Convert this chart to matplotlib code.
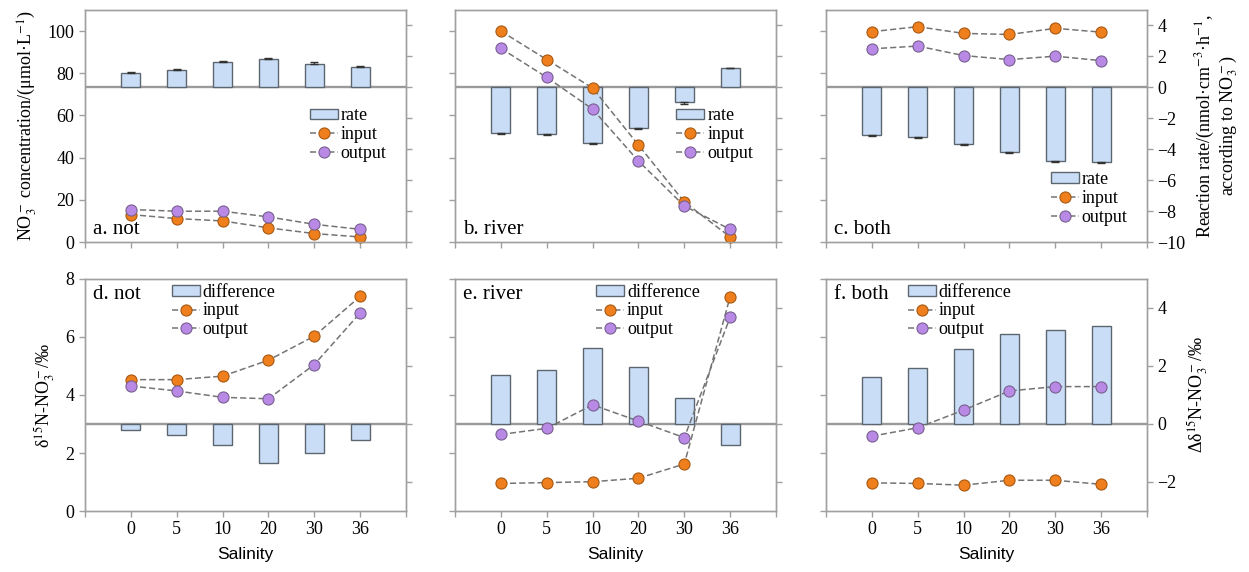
import matplotlib
matplotlib.use("Agg")
import matplotlib.pyplot as plt
import numpy as np
from matplotlib.patches import Patch
from matplotlib.lines import Line2D

# salinity categories
salinity = ["0", "5", "10", "20", "30", "36"]

# top row: NO3- concentration (left axis) and reaction rate (right axis)
rate_not = [0.95, 1.1, 1.65, 1.8, 1.5, 1.3]
rate_not_err = [0.06, 0.06, 0.07, 0.08, 0.12, 0.08]
in_not = [13.0, 11.1, 10.0, 6.7, 4.0, 2.4]
out_not = [15.4, 14.6, 14.6, 11.9, 8.4, 6.0]

rate_river = [-2.95, -3.0, -3.6, -2.6, -0.92, 1.23]
rate_river_err = [0.07, 0.1, 0.07, 0.12, 0.18, 0.05]
in_river = [100.0, 86.5, 73.0, 46.0, 19.0, 2.4]
out_river = [91.8, 78.1, 63.0, 38.4, 17.1, 6.0]

rate_both = [-3.1, -3.2, -3.65, -4.15, -4.75, -4.85]
rate_both_err = [0.06, 0.1, 0.08, 0.1, 0.08, 0.07]
in_both = [99.7, 102.1, 98.9, 98.4, 101.3, 99.5]
out_both = [91.6, 92.9, 88.4, 86.5, 88.1, 86.0]

# bottom row: d15N (left axis) and difference (right axis)
d15_in_not = [4.53, 4.53, 4.65, 5.2, 6.03, 7.4]
d15_out_not = [4.31, 4.14, 3.92, 3.87, 5.05, 6.83]
diff_not = [-0.21, -0.38, -0.72, -1.33, -0.99, -0.55]

d15_in_river = [0.95, 0.98, 1.01, 1.13, 1.62, 7.39]
d15_out_river = [2.64, 2.85, 3.66, 3.10, 2.53, 6.68]
diff_river = [1.69, 1.86, 2.63, 1.95, 0.91, -0.72]

d15_in_both = [0.97, 0.95, 0.89, 1.06, 1.06, 0.92]
d15_out_both = [2.58, 2.87, 3.48, 4.14, 4.29, 4.29]
diff_both = [1.61, 1.93, 2.58, 3.10, 3.24, 3.38]

SERIF = "Liberation Serif"
SANS = "Liberation Sans"
plt.rcParams["font.family"] = SERIF
plt.rcParams["mathtext.fontset"] = "stix"

SPINE = "#a0a0a0"
BAR = "#c9def6"
BAR_EDGE = "#5c6670"
ORANGE = "#ee7f1c"
ORANGE_EDGE = "#a85a14"
PURPLE = "#b88ae6"
PURPLE_EDGE = "#7a6090"
LINE = "#747474"

W, H = 1249, 572
fig = plt.figure(figsize=(W / 100, H / 100), dpi=100)


def make_axes(x0, y0, w=321, h=232):
    return fig.add_axes([x0 / W, 1 - (y0 + h) / H, w / W, h / H])


def style(ax):
    for sp in ax.spines.values():
        sp.set_color(SPINE)
        sp.set_linewidth(1.0)
    ax.tick_params(colors=SPINE, labelcolor="black", labelsize=13, length=4, width=1, direction="out")


def panel(ax, rate, rate_err, s_in, s_out, label, ylim_l, ylim_r, yt_l, yt_r,
          show_l, show_r, show_x, bar_name, leg_loc, lab_top):
    x = np.arange(len(salinity))
    ax2 = ax.twinx()
    ax.set_zorder(ax2.get_zorder() + 1)
    ax.patch.set_visible(False)

    ax2.axhline(0, color="#9a9a9a", lw=1.7, zorder=1)
    ax2.bar(x, rate, width=0.42, color=BAR, edgecolor=BAR_EDGE, linewidth=1.0, zorder=2)
    if rate_err is not None:
        r = np.array(rate)
        e = np.array(rate_err)
        lo = np.where(r < 0, e, 0)
        hi = np.where(r > 0, e, 0)
        ax2.errorbar(x, r, yerr=[lo, hi], fmt="none", ecolor="#333333", elinewidth=1.0, capsize=3, zorder=3)

    kw = dict(ls=(0, (4, 2)), lw=1.1, color=LINE, ms=8, mew=0.8)
    ax.plot(x, s_in, marker="o", mfc=ORANGE, mec=ORANGE_EDGE, clip_on=False, **kw)
    ax.plot(x, s_out, marker="o", mfc=PURPLE, mec=PURPLE_EDGE, clip_on=False, **kw)

    ax.set_xlim(-1, 6)
    ax.set_ylim(*ylim_l)
    ax2.set_ylim(*ylim_r)
    ax.set_yticks(yt_l)
    ax2.set_yticks(yt_r)
    ax.set_xticks(np.arange(-1, 7))
    if show_x:
        ax.set_xticklabels([""] + salinity + [""])
        ax.set_xlabel("Salinity", fontfamily=SANS, fontsize=12.5, labelpad=6)
    else:
        ax.set_xticklabels([])
    if not show_l:
        ax.set_yticklabels([])
    if not show_r:
        ax2.set_yticklabels([])
    style(ax)
    style(ax2)

    handles = [
        Patch(facecolor=BAR, edgecolor=BAR_EDGE, linewidth=1.0),
        Line2D([], [], marker="o", mfc=ORANGE, mec=ORANGE_EDGE, **kw),
        Line2D([], [], marker="o", mfc=PURPLE, mec=PURPLE_EDGE, **kw),
    ]
    ax.legend(handles, [bar_name, "input", "output"], loc="upper left", bbox_to_anchor=leg_loc,
              frameon=False, fontsize=13, handlelength=1.55, handleheight=0.55, handletextpad=0.15,
              labelspacing=0.1, borderpad=0, borderaxespad=0, numpoints=1)

    if lab_top:
        ax.text(0.025, 0.975, label, transform=ax.transAxes, fontsize=15, va="top", ha="left")
    else:
        ax.text(0.025, 0.015, label, transform=ax.transAxes, fontsize=15, va="bottom", ha="left")
    return ax, ax2


lefts = [85, 455, 826]
top_y, bot_y = 10, 279

yl_top = (0, 110)
yr_top = (-10, 5)
yt_top_l = [0, 20, 40, 60, 80, 100]
yt_top_r = [-10, -8, -6, -4, -2, 0, 2, 4]
yl_bot = (0, 8)
yr_bot = (-3, 5)
yt_bot_l = [0, 2, 4, 6, 8]
yt_bot_r = [-2, 0, 2, 4]

a, a2 = panel(make_axes(lefts[0], top_y), rate_not, rate_not_err, in_not, out_not, "a. not",
              yl_top, yr_top, yt_top_l, yt_top_r, True, False, False, "rate", (0.70, 0.58), False)
b, b2 = panel(make_axes(lefts[1], top_y), rate_river, rate_river_err, in_river, out_river, "b. river",
              yl_top, yr_top, yt_top_l, yt_top_r, False, False, False, "rate", (0.69, 0.58), False)
c, c2 = panel(make_axes(lefts[2], top_y), rate_both, rate_both_err, in_both, out_both, "c. both",
              yl_top, yr_top, yt_top_l, yt_top_r, False, True, False, "rate", (0.70, 0.305), False)
d, d2 = panel(make_axes(lefts[0], bot_y), diff_not, None, d15_in_not, d15_out_not, "d. not",
              yl_bot, yr_bot, yt_bot_l, yt_bot_r, True, False, True, "difference", (0.27, 0.98), True)
e, e2 = panel(make_axes(lefts[1], bot_y), diff_river, None, d15_in_river, d15_out_river, "e. river",
              yl_bot, yr_bot, yt_bot_l, yt_bot_r, False, False, True, "difference", (0.44, 0.98), True)
f, f2 = panel(make_axes(lefts[2], bot_y), diff_both, None, d15_in_both, d15_out_both, "f. both",
              yl_bot, yr_bot, yt_bot_l, yt_bot_r, False, True, True, "difference", (0.255, 0.98), True)

a.set_ylabel("NO$_3^-$ concentration/(μmol·L$^{-1}$)", fontsize=13, labelpad=6)
c2.set_ylabel("Reaction rate/(nmol·cm$^{-3}$·h$^{-1}$,\naccording to NO$_3^-$)", fontsize=13,
              labelpad=6, linespacing=1.0)
d.set_ylabel("δ$^{15}$N-NO$_3^-$/‰", fontsize=13, labelpad=6)
f2.set_ylabel("Δδ$^{15}$N-NO$_3^-$/‰", fontsize=13, labelpad=6)

fig.savefig("out.png", dpi=100)
